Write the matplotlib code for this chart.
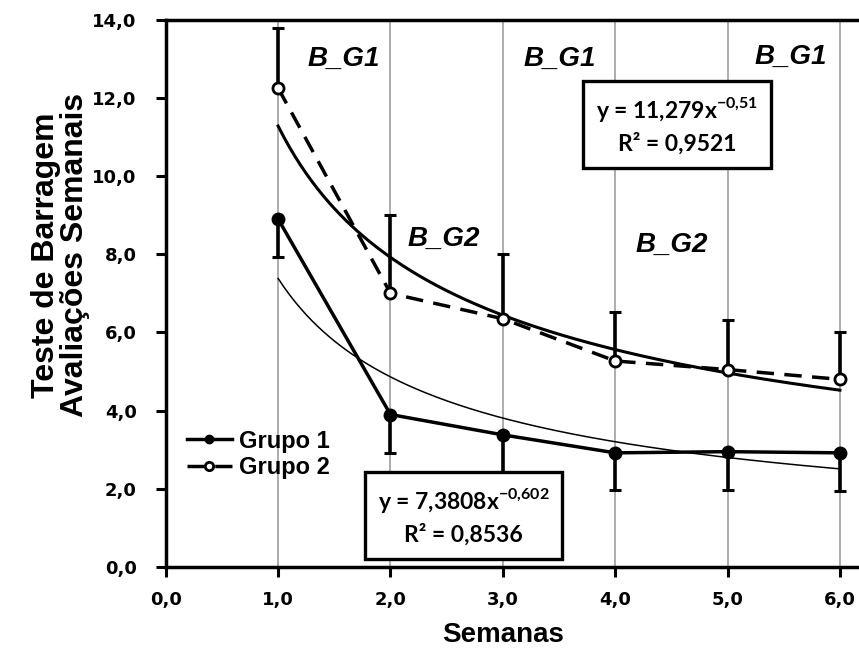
import numpy as np
import matplotlib
matplotlib.use("Agg")
import matplotlib.pyplot as plt
from matplotlib.ticker import FuncFormatter

# dados
semanas = [1, 2, 3, 4, 5, 6]
grupo1 = [8.9, 3.9, 3.38, 2.92, 2.95, 2.92]
grupo1_dp = [0.97, 0.98, 1.0, 0.95, 0.98, 0.97]
grupo2 = [12.25, 7.0, 6.35, 5.27, 5.05, 4.8]
grupo2_dp = [1.55, 2.0, 1.65, 1.25, 1.27, 1.2]

# linhas de tendência (potência) indicadas nas caixas
fit1_a, fit1_b, fit1_r2 = 7.3808, -0.602, "0,8536"
fit2_a, fit2_b, fit2_r2 = 11.279, -0.51, "0,9521"

rotulos_g1 = [(1.58, 13.0), (3.51, 13.0), (5.56, 13.05)]
rotulos_g2 = [(2.47, 8.4), (4.5, 8.25)]

plt.rcParams["mathtext.fontset"] = "custom"
plt.rcParams["mathtext.rm"] = "Lato:bold"
plt.rcParams["mathtext.bf"] = "Lato:bold"

fig = plt.figure(figsize=(8.59, 6.57), dpi=100)
ax = fig.add_axes([0.193, 0.137, 0.807, 0.833])

for x in semanas:
    ax.axvline(x, color="#a6a6a6", lw=1.3, zorder=0)

# tendências
xs = np.linspace(1, 6, 200)
ax.plot(xs, fit2_a * xs ** fit2_b, color="black", lw=2.2, zorder=2)
ax.plot(xs, fit1_a * xs ** fit1_b, color="black", lw=1.1, zorder=2)

# barras de erro: grupo 1 para baixo, grupo 2 para cima
ax.errorbar(semanas, grupo1, yerr=[grupo1_dp, [0] * 6], fmt="none",
            ecolor="black", elinewidth=2.6, capsize=4, capthick=2.2, zorder=3)
ax.errorbar(semanas, grupo2, yerr=[[0] * 6, grupo2_dp], fmt="none",
            ecolor="black", elinewidth=2.6, capsize=4, capthick=2.2, zorder=3)

ax.plot(semanas, grupo1, "-o", color="black", lw=2.5, ms=9,
        label="Grupo 1", zorder=4)
ax.plot(semanas, grupo2, "--o", color="black", lw=2.5, ms=8,
        mfc="white", mew=2, dashes=(5, 3), label="Grupo 2", zorder=4)

for x, y in rotulos_g1:
    ax.text(x, y, "B_G1", ha="center", va="center", fontsize=20,
            family="Liberation Sans", weight="bold", style="italic")
for x, y in rotulos_g2:
    ax.text(x, y, "B_G2", ha="center", va="center", fontsize=20,
            family="Liberation Sans", weight="bold", style="italic")

caixa = dict(boxstyle="square,pad=0.55", fc="white", ec="black", lw=2.4)
ax.text(4.55, 11.3,
        "y = 11,279x$^{-0{,}51}$\nR² = " + fit2_r2,
        ha="center", va="center", fontsize=16.5, family="Lato", weight="bold",
        linespacing=1.45, bbox=caixa, zorder=6)
ax.text(2.65, 1.3,
        "y = 7,3808x$^{-0{,}602}$\nR² = " + fit1_r2,
        ha="center", va="center", fontsize=16.5, family="Lato", weight="bold",
        linespacing=1.45, bbox=caixa, zorder=6)

ax.set_xlim(0, 6.17)
ax.set_ylim(0, 14)
ax.set_xticks(range(0, 7))
ax.set_yticks(range(0, 15, 2))
virgula = FuncFormatter(lambda v, p: f"{v:.1f}".replace(".", ","))
ax.xaxis.set_major_formatter(virgula)
ax.yaxis.set_major_formatter(virgula)
for lab in ax.get_xticklabels() + ax.get_yticklabels():
    lab.set_family("DejaVu Sans")
    lab.set_fontweight("bold")
    lab.set_fontsize(13)
ax.tick_params(direction="out", length=7, width=2.2)
ax.tick_params(axis="y", pad=14)
ax.tick_params(axis="x", pad=10)

for s in ["left", "bottom", "top"]:
    ax.spines[s].set_linewidth(2.5)
ax.spines["right"].set_visible(False)

ax.set_xlabel("Semanas", family="Liberation Sans", weight="bold", fontsize=20)
ax.xaxis.set_label_coords(3.0 / 6.17, -0.1)
ax.set_ylabel("Teste de Barragem\nAvaliações Semanais", family="Liberation Sans",
              weight="bold", fontsize=23, linespacing=0.92)
ax.yaxis.set_label_coords(-0.11, 0.57)

leg = ax.legend(loc="upper left", bbox_to_anchor=(0.0, 0.29), frameon=False,
                handlelength=1.9, handletextpad=0.3, labelspacing=0.15,
                prop={"family": "Liberation Sans", "weight": "bold", "size": 17})
for h in leg.legend_handles:
    h.set_markersize(6)

fig.savefig("out.png", dpi=100)
